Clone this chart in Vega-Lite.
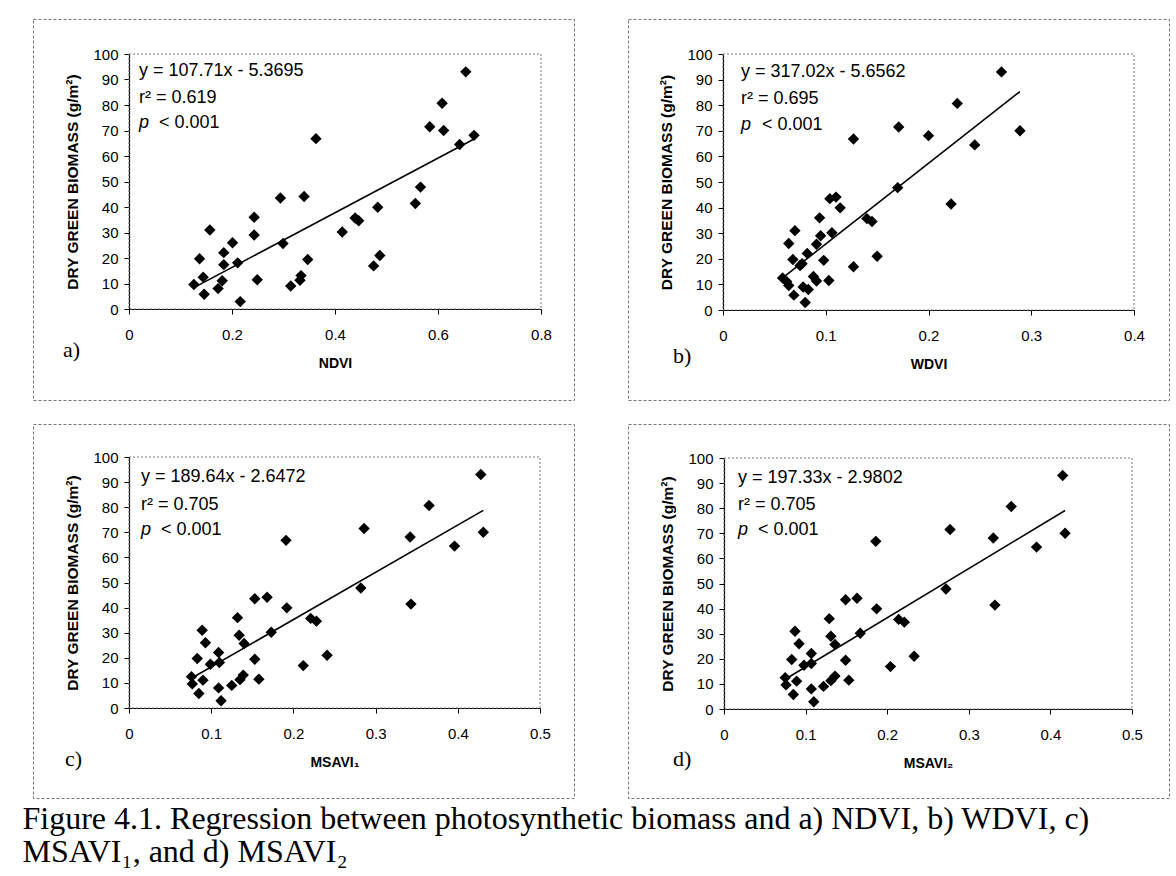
{
  "$schema": "https://vega.github.io/schema/vega-lite/v6.json",
  "background": "white",
  "padding": {"left": 22, "top": 18, "right": 0, "bottom": 0},
  "title": {
    "text": ["Figure 4.1. Regression between photosynthetic biomass and a) NDVI, b) WDVI, c)", "MSAVI₁, and d) MSAVI₂"],
    "orient": "bottom", "anchor": "start", "offset": 5, "dx": -10,
    "font": "Liberation Serif", "fontSize": 32, "fontWeight": "normal", "lineHeight": 33, "color": "black"
  },
  "datasets": {
    "pts": [
      {"ndvi": 0.654, "wdvi": 0.271, "msavi1": 0.428, "msavi2": 0.415, "biomass": 93.0},
      {"ndvi": 0.608, "wdvi": 0.228, "msavi1": 0.365, "msavi2": 0.352, "biomass": 80.7},
      {"ndvi": 0.584, "wdvi": 0.171, "msavi1": 0.286, "msavi2": 0.277, "biomass": 71.5},
      {"ndvi": 0.611, "wdvi": 0.289, "msavi1": 0.431, "msavi2": 0.418, "biomass": 70.0},
      {"ndvi": 0.670, "wdvi": 0.200, "msavi1": 0.342, "msavi2": 0.330, "biomass": 68.1},
      {"ndvi": 0.642, "wdvi": 0.245, "msavi1": 0.396, "msavi2": 0.383, "biomass": 64.5},
      {"ndvi": 0.363, "wdvi": 0.127, "msavi1": 0.191, "msavi2": 0.186, "biomass": 66.8},
      {"ndvi": 0.566, "wdvi": 0.170, "msavi1": 0.282, "msavi2": 0.272, "biomass": 47.8},
      {"ndvi": 0.556, "wdvi": 0.222, "msavi1": 0.343, "msavi2": 0.332, "biomass": 41.4},
      {"ndvi": 0.340, "wdvi": 0.110, "msavi1": 0.168, "msavi2": 0.163, "biomass": 44.1},
      {"ndvi": 0.294, "wdvi": 0.104, "msavi1": 0.153, "msavi2": 0.149, "biomass": 43.5},
      {"ndvi": 0.483, "wdvi": 0.114, "msavi1": 0.192, "msavi2": 0.187, "biomass": 39.9},
      {"ndvi": 0.243, "wdvi": 0.094, "msavi1": 0.132, "msavi2": 0.129, "biomass": 36.0},
      {"ndvi": 0.439, "wdvi": 0.140, "msavi1": 0.221, "msavi2": 0.214, "biomass": 35.7},
      {"ndvi": 0.446, "wdvi": 0.145, "msavi1": 0.228, "msavi2": 0.221, "biomass": 34.6},
      {"ndvi": 0.414, "wdvi": 0.106, "msavi1": 0.173, "msavi2": 0.167, "biomass": 30.2},
      {"ndvi": 0.157, "wdvi": 0.070, "msavi1": 0.089, "msavi2": 0.087, "biomass": 31.0},
      {"ndvi": 0.243, "wdvi": 0.095, "msavi1": 0.134, "msavi2": 0.131, "biomass": 29.0},
      {"ndvi": 0.201, "wdvi": 0.064, "msavi1": 0.093, "msavi2": 0.092, "biomass": 26.0},
      {"ndvi": 0.299, "wdvi": 0.091, "msavi1": 0.140, "msavi2": 0.136, "biomass": 25.7},
      {"ndvi": 0.184, "wdvi": 0.082, "msavi1": 0.109, "msavi2": 0.107, "biomass": 22.1},
      {"ndvi": 0.211, "wdvi": 0.077, "msavi1": 0.110, "msavi2": 0.107, "biomass": 18.1},
      {"ndvi": 0.184, "wdvi": 0.075, "msavi1": 0.099, "msavi2": 0.098, "biomass": 17.4},
      {"ndvi": 0.137, "wdvi": 0.068, "msavi1": 0.083, "msavi2": 0.083, "biomass": 19.7},
      {"ndvi": 0.347, "wdvi": 0.098, "msavi1": 0.153, "msavi2": 0.149, "biomass": 19.4},
      {"ndvi": 0.487, "wdvi": 0.150, "msavi1": 0.241, "msavi2": 0.233, "biomass": 21.0},
      {"ndvi": 0.475, "wdvi": 0.127, "msavi1": 0.212, "msavi2": 0.204, "biomass": 16.9},
      {"ndvi": 0.144, "wdvi": 0.058, "msavi1": 0.076, "msavi2": 0.075, "biomass": 12.5},
      {"ndvi": 0.181, "wdvi": 0.062, "msavi1": 0.090, "msavi2": 0.089, "biomass": 11.1},
      {"ndvi": 0.249, "wdvi": 0.103, "msavi1": 0.158, "msavi2": 0.153, "biomass": 11.5},
      {"ndvi": 0.334, "wdvi": 0.088, "msavi1": 0.139, "msavi2": 0.136, "biomass": 13.1},
      {"ndvi": 0.332, "wdvi": 0.091, "msavi1": 0.135, "msavi2": 0.131, "biomass": 11.3},
      {"ndvi": 0.126, "wdvi": 0.064, "msavi1": 0.077, "msavi2": 0.076, "biomass": 9.6},
      {"ndvi": 0.314, "wdvi": 0.078, "msavi1": 0.125, "msavi2": 0.122, "biomass": 9.0},
      {"ndvi": 0.173, "wdvi": 0.083, "msavi1": 0.109, "msavi2": 0.107, "biomass": 8.0},
      {"ndvi": 0.146, "wdvi": 0.069, "msavi1": 0.085, "msavi2": 0.085, "biomass": 5.8},
      {"ndvi": 0.216, "wdvi": 0.080, "msavi1": 0.112, "msavi2": 0.110, "biomass": 2.9}
    ],
    "ann": [
      {"panel": "a", "part": "eq", "label": "y = 107.71x - 5.3695", "ax": 0.0194, "ay": 93.3},
      {"panel": "a", "part": "r2", "label": "r² = 0.619", "ax": 0.0194, "ay": 82.7},
      {"panel": "a", "part": "p", "label": "p", "ax": 0.0194, "ay": 72.9},
      {"panel": "a", "part": "pv", "label": "< 0.001", "ax": 0.0194, "ay": 72.9},
      {"panel": "b", "part": "eq", "label": "y = 317.02x - 5.6562", "ax": 0.0175, "ay": 93.1},
      {"panel": "b", "part": "r2", "label": "r² = 0.695", "ax": 0.0175, "ay": 82.3},
      {"panel": "b", "part": "p", "label": "p", "ax": 0.0175, "ay": 72.3},
      {"panel": "b", "part": "pv", "label": "< 0.001", "ax": 0.0175, "ay": 72.3},
      {"panel": "c", "part": "eq", "label": "y = 189.64x - 2.6472", "ax": 0.0146, "ay": 91.9},
      {"panel": "c", "part": "r2", "label": "r² = 0.705", "ax": 0.0146, "ay": 81.0},
      {"panel": "c", "part": "p", "label": "p", "ax": 0.0146, "ay": 70.8},
      {"panel": "c", "part": "pv", "label": "< 0.001", "ax": 0.0146, "ay": 70.8},
      {"panel": "d", "part": "eq", "label": "y = 197.33x - 2.9802", "ax": 0.0172, "ay": 92.0},
      {"panel": "d", "part": "r2", "label": "r² = 0.705", "ax": 0.0172, "ay": 81.4},
      {"panel": "d", "part": "p", "label": "p", "ax": 0.0172, "ay": 71.4},
      {"panel": "d", "part": "pv", "label": "< 0.001", "ax": 0.0172, "ay": 71.4}
    ],
    "plotarea": [
      {"panel": "a", "x0": 0, "x1": 0.8, "y0": 0, "y1": 100},
      {"panel": "b", "x0": 0, "x1": 0.4, "y0": 0, "y1": 100},
      {"panel": "c", "x0": 0, "x1": 0.5, "y0": 0, "y1": 100},
      {"panel": "d", "x0": 0, "x1": 0.5, "y0": 0, "y1": 100}
    ]
  },
  "config": {
    "view": {"stroke": "#777777", "strokeDash": [3, 2], "strokeWidth": 1},
    "axis": {
      "domainColor": "black", "domainWidth": 1.2, "tickColor": "black", "tickSize": 5, "tickWidth": 1,
      "labelFont": "Liberation Sans", "labelFontSize": 15, "labelColor": "black", "labelFlush": false,
      "titleFont": "Liberation Sans", "titleFontWeight": "bold", "titleColor": "black",
      "grid": false, "zindex": 1
    },
    "axisX": {"labelPadding": 13, "titleFontSize": 14, "titlePadding": 14, "format": "~r"},
    "axisY": {"labelPadding": 6, "titleFontSize": 15.5, "titlePadding": 12},
    "text": {"font": "Liberation Sans", "fontSize": 18, "color": "black", "align": "left", "baseline": "middle"},
    "rect": {"filled": false, "stroke": "#777777", "strokeWidth": 1, "strokeDash": [2, 2]}
  },
  "spacing": 22,
  "vconcat": [
    {
      "spacing": 52,
      "hconcat": [
        {
          "width": 541, "height": 381,
          "title": {"text": "a)", "orient": "bottom", "anchor": "start", "frame": "group", "offset": -60, "dx": 30, "font": "Liberation Serif", "fontSize": 22, "fontWeight": "normal", "color": "black"},
          "data": {"name": "pts"},
          "encoding": {
            "x": {"field": "ndvi", "type": "quantitative",
              "scale": {"domain": [0, 0.8], "range": [96, 508], "nice": false, "zero": false},
              "axis": {"title": "NDVI", "values": [0, 0.2, 0.4, 0.6, 0.8], "offset": -91}},
            "y": {"field": "biomass", "type": "quantitative",
              "scale": {"domain": [0, 100], "range": [290, 35], "nice": false},
              "axis": {"title": "DRY GREEN BIOMASS (g/m²)", "values": [0, 10, 20, 30, 40, 50, 60, 70, 80, 90, 100], "offset": -96}}
          },
          "layer": [
            {"data": {"name": "plotarea"}, "transform": [{"filter": "datum.panel === 'a'"}], "mark": {"type": "rect"},
              "encoding": {"x": {"field": "x0", "type": "quantitative"}, "x2": {"field": "x1"}, "y": {"field": "y0", "type": "quantitative"}, "y2": {"field": "y1"}}},
            {"mark": {"type": "point", "shape": "diamond", "filled": true, "color": "black", "size": 130, "opacity": 1}},
            {"transform": [{"regression": "biomass", "on": "ndvi"}], "mark": {"type": "line", "color": "black", "strokeWidth": 1.6}},
            {"data": {"name": "ann"}, "transform": [{"filter": "datum.panel === 'a' && (datum.part === 'eq' || datum.part === 'r2')"}], "mark": {"type": "text"},
              "encoding": {"x": {"field": "ax", "type": "quantitative"}, "y": {"field": "ay", "type": "quantitative"}, "text": {"field": "label"}}},
            {"data": {"name": "ann"}, "transform": [{"filter": "datum.panel === 'a' && datum.part === 'p'"}], "mark": {"type": "text", "fontStyle": "italic"},
              "encoding": {"x": {"field": "ax", "type": "quantitative"}, "y": {"field": "ay", "type": "quantitative"}, "text": {"field": "label"}}},
            {"data": {"name": "ann"}, "transform": [{"filter": "datum.panel === 'a' && datum.part === 'pv'"}], "mark": {"type": "text", "dx": 20},
              "encoding": {"x": {"field": "ax", "type": "quantitative"}, "y": {"field": "ay", "type": "quantitative"}, "text": {"field": "label"}}}
          ]
        },
        {
          "width": 541, "height": 381,
          "title": {"text": "b)", "orient": "bottom", "anchor": "start", "frame": "group", "offset": -54, "dx": 45, "font": "Liberation Serif", "fontSize": 22, "fontWeight": "normal", "color": "black"},
          "data": {"name": "pts"},
          "encoding": {
            "x": {"field": "wdvi", "type": "quantitative",
              "scale": {"domain": [0, 0.4], "range": [95, 506], "nice": false, "zero": false},
              "axis": {"title": "WDVI", "values": [0, 0.1, 0.2, 0.3, 0.4], "offset": -90}},
            "y": {"field": "biomass", "type": "quantitative",
              "scale": {"domain": [0, 100], "range": [291, 35], "nice": false},
              "axis": {"title": "DRY GREEN BIOMASS (g/m²)", "values": [0, 10, 20, 30, 40, 50, 60, 70, 80, 90, 100], "offset": -95}}
          },
          "layer": [
            {"data": {"name": "plotarea"}, "transform": [{"filter": "datum.panel === 'b'"}], "mark": {"type": "rect"},
              "encoding": {"x": {"field": "x0", "type": "quantitative"}, "x2": {"field": "x1"}, "y": {"field": "y0", "type": "quantitative"}, "y2": {"field": "y1"}}},
            {"mark": {"type": "point", "shape": "diamond", "filled": true, "color": "black", "size": 130, "opacity": 1}},
            {"transform": [{"regression": "biomass", "on": "wdvi"}], "mark": {"type": "line", "color": "black", "strokeWidth": 1.6}},
            {"data": {"name": "ann"}, "transform": [{"filter": "datum.panel === 'b' && (datum.part === 'eq' || datum.part === 'r2')"}], "mark": {"type": "text"},
              "encoding": {"x": {"field": "ax", "type": "quantitative"}, "y": {"field": "ay", "type": "quantitative"}, "text": {"field": "label"}}},
            {"data": {"name": "ann"}, "transform": [{"filter": "datum.panel === 'b' && datum.part === 'p'"}], "mark": {"type": "text", "fontStyle": "italic"},
              "encoding": {"x": {"field": "ax", "type": "quantitative"}, "y": {"field": "ay", "type": "quantitative"}, "text": {"field": "label"}}},
            {"data": {"name": "ann"}, "transform": [{"filter": "datum.panel === 'b' && datum.part === 'pv'"}], "mark": {"type": "text", "dx": 21},
              "encoding": {"x": {"field": "ax", "type": "quantitative"}, "y": {"field": "ay", "type": "quantitative"}, "text": {"field": "label"}}}
          ]
        }
      ]
    },
    {
      "spacing": 52,
      "hconcat": [
        {
          "width": 541, "height": 374,
          "title": {"text": "c)", "orient": "bottom", "anchor": "start", "frame": "group", "offset": -49, "dx": 32, "font": "Liberation Serif", "fontSize": 22, "fontWeight": "normal", "color": "black"},
          "data": {"name": "pts"},
          "encoding": {
            "x": {"field": "msavi1", "type": "quantitative",
              "scale": {"domain": [0, 0.5], "range": [96, 507], "nice": false, "zero": false},
              "axis": {"title": "MSAVI₁", "values": [0, 0.1, 0.2, 0.3, 0.4, 0.5], "offset": -90}},
            "y": {"field": "biomass", "type": "quantitative",
              "scale": {"domain": [0, 100], "range": [284, 33], "nice": false},
              "axis": {"title": "DRY GREEN BIOMASS (g/m²)", "values": [0, 10, 20, 30, 40, 50, 60, 70, 80, 90, 100], "offset": -96}}
          },
          "layer": [
            {"data": {"name": "plotarea"}, "transform": [{"filter": "datum.panel === 'c'"}], "mark": {"type": "rect"},
              "encoding": {"x": {"field": "x0", "type": "quantitative"}, "x2": {"field": "x1"}, "y": {"field": "y0", "type": "quantitative"}, "y2": {"field": "y1"}}},
            {"mark": {"type": "point", "shape": "diamond", "filled": true, "color": "black", "size": 130, "opacity": 1}},
            {"transform": [{"regression": "biomass", "on": "msavi1"}], "mark": {"type": "line", "color": "black", "strokeWidth": 1.6}},
            {"data": {"name": "ann"}, "transform": [{"filter": "datum.panel === 'c' && (datum.part === 'eq' || datum.part === 'r2')"}], "mark": {"type": "text"},
              "encoding": {"x": {"field": "ax", "type": "quantitative"}, "y": {"field": "ay", "type": "quantitative"}, "text": {"field": "label"}}},
            {"data": {"name": "ann"}, "transform": [{"filter": "datum.panel === 'c' && datum.part === 'p'"}], "mark": {"type": "text", "fontStyle": "italic"},
              "encoding": {"x": {"field": "ax", "type": "quantitative"}, "y": {"field": "ay", "type": "quantitative"}, "text": {"field": "label"}}},
            {"data": {"name": "ann"}, "transform": [{"filter": "datum.panel === 'c' && datum.part === 'pv'"}], "mark": {"type": "text", "dx": 20},
              "encoding": {"x": {"field": "ax", "type": "quantitative"}, "y": {"field": "ay", "type": "quantitative"}, "text": {"field": "label"}}}
          ]
        },
        {
          "width": 541, "height": 374,
          "title": {"text": "d)", "orient": "bottom", "anchor": "start", "frame": "group", "offset": -49, "dx": 45, "font": "Liberation Serif", "fontSize": 22, "fontWeight": "normal", "color": "black"},
          "data": {"name": "pts"},
          "encoding": {
            "x": {"field": "msavi2", "type": "quantitative",
              "scale": {"domain": [0, 0.5], "range": [96, 504], "nice": false, "zero": false},
              "axis": {"title": "MSAVI₂", "values": [0, 0.1, 0.2, 0.3, 0.4, 0.5], "offset": -89}},
            "y": {"field": "biomass", "type": "quantitative",
              "scale": {"domain": [0, 100], "range": [285, 34], "nice": false},
              "axis": {"title": "DRY GREEN BIOMASS (g/m²)", "values": [0, 10, 20, 30, 40, 50, 60, 70, 80, 90, 100], "offset": -96}}
          },
          "layer": [
            {"data": {"name": "plotarea"}, "transform": [{"filter": "datum.panel === 'd'"}], "mark": {"type": "rect"},
              "encoding": {"x": {"field": "x0", "type": "quantitative"}, "x2": {"field": "x1"}, "y": {"field": "y0", "type": "quantitative"}, "y2": {"field": "y1"}}},
            {"mark": {"type": "point", "shape": "diamond", "filled": true, "color": "black", "size": 130, "opacity": 1}},
            {"transform": [{"regression": "biomass", "on": "msavi2"}], "mark": {"type": "line", "color": "black", "strokeWidth": 1.6}},
            {"data": {"name": "ann"}, "transform": [{"filter": "datum.panel === 'd' && (datum.part === 'eq' || datum.part === 'r2')"}], "mark": {"type": "text"},
              "encoding": {"x": {"field": "ax", "type": "quantitative"}, "y": {"field": "ay", "type": "quantitative"}, "text": {"field": "label"}}},
            {"data": {"name": "ann"}, "transform": [{"filter": "datum.panel === 'd' && datum.part === 'p'"}], "mark": {"type": "text", "fontStyle": "italic"},
              "encoding": {"x": {"field": "ax", "type": "quantitative"}, "y": {"field": "ay", "type": "quantitative"}, "text": {"field": "label"}}},
            {"data": {"name": "ann"}, "transform": [{"filter": "datum.panel === 'd' && datum.part === 'pv'"}], "mark": {"type": "text", "dx": 20},
              "encoding": {"x": {"field": "ax", "type": "quantitative"}, "y": {"field": "ay", "type": "quantitative"}, "text": {"field": "label"}}}
          ]
        }
      ]
    }
  ]
}
